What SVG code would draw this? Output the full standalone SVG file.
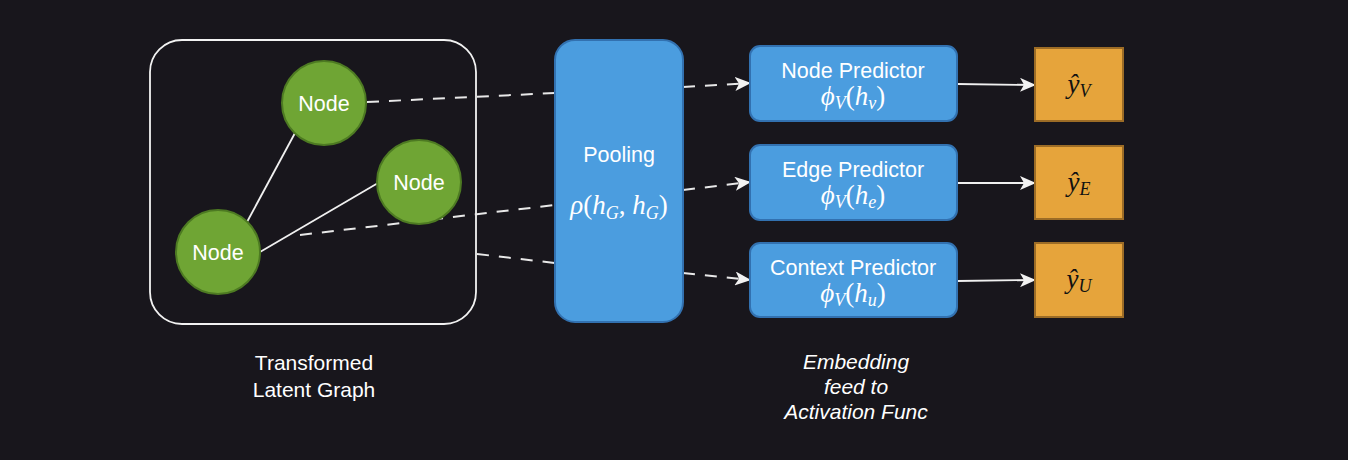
<svg xmlns="http://www.w3.org/2000/svg" width="1348" height="460" viewBox="0 0 1348 460">
<style>
.lbl{font-family:"Liberation Sans",Arial,sans-serif;font-size:21.5px;fill:#ffffff;text-anchor:middle}
.cap{font-family:"Liberation Sans",Arial,sans-serif;font-size:21px;fill:#ffffff;text-anchor:middle}
.math{font-family:"Liberation Serif","Times New Roman",serif;font-size:27px;fill:#ffffff;text-anchor:middle}
.omath{font-family:"Liberation Serif","Times New Roman",serif;font-size:27px;fill:#111111;text-anchor:middle;font-style:italic}
.node{fill:#6fa534;stroke:#4d7a22;stroke-width:2}
.blue{fill:#4b9ddf;stroke:#3271b0;stroke-width:2}
.out{fill:#e6a43b;stroke:#9c6c26;stroke-width:2}
.dash{fill:none;stroke:#e8e8e8;stroke-width:2;stroke-dasharray:12 10}
.solid{fill:none;stroke:#f0f0f0;stroke-width:1.8}
</style>
<defs>
<marker id="arr" viewBox="0 0 16 14" refX="15" refY="7" markerWidth="16" markerHeight="14" markerUnits="userSpaceOnUse" orient="auto">
<path d="M0,0 L16,7 L0,14 L4,7 z" fill="#f2f2f2"/>
</marker>
</defs>
<rect width="1348" height="460" fill="#18161c"/>
<g id="graph-frame">
<rect x="150" y="40" width="326" height="284" rx="32" fill="none" stroke="#f2f2f2" stroke-width="1.8"/>
</g>
<g id="connectors">
<line class="solid" x1="247" y1="222" x2="295" y2="133"/>
<line class="solid" x1="260" y1="252" x2="378" y2="183"/>
<line class="dash" x1="367" y1="102" x2="555" y2="93"/>
<line class="dash" x1="300" y1="235" x2="555" y2="205"/>
<line class="dash" x1="477" y1="254" x2="555" y2="263"/>
<line class="dash" x1="683" y1="87" x2="750" y2="83" marker-end="url(#arr)"/>
<line class="dash" x1="683" y1="190" x2="750" y2="182" marker-end="url(#arr)"/>
<line class="dash" x1="683" y1="273" x2="750" y2="280" marker-end="url(#arr)"/>
<line class="solid" x1="957" y1="84" x2="1035" y2="85" marker-end="url(#arr)"/>
<line class="solid" x1="957" y1="183" x2="1035" y2="183" marker-end="url(#arr)"/>
<line class="solid" x1="957" y1="281" x2="1035" y2="280" marker-end="url(#arr)"/>
</g>
<g id="node1">
<circle class="node" cx="324" cy="103" r="42"/>
<text class="lbl" x="324" y="111">Node</text>
</g>
<g id="node2">
<circle class="node" cx="419" cy="182" r="42"/>
<text class="lbl" x="419" y="190">Node</text>
</g>
<g id="node3">
<circle class="node" cx="218" cy="252" r="42"/>
<text class="lbl" x="218" y="260">Node</text>
</g>
<g id="pooling">
<rect class="blue" x="555" y="40" width="128" height="282" rx="20"/>
<text class="lbl" x="619" y="162">Pooling</text>
<text class="math" x="619" y="214"><tspan font-style="italic">ρ</tspan>(<tspan font-style="italic">h</tspan><tspan font-style="italic" font-size="18" dy="5">G</tspan><tspan dy="-5">, </tspan><tspan font-style="italic">h</tspan><tspan font-style="italic" font-size="18" dy="5">G</tspan><tspan dy="-5">)</tspan></text>
</g>
<g id="node-predictor">
<rect class="blue" x="750" y="46" width="207" height="75" rx="10"/>
<text class="lbl" x="853" y="78">Node Predictor</text>
<text class="math" x="853" y="105"><tspan font-style="italic">ϕ</tspan><tspan font-style="italic" font-size="18" dy="4">V</tspan><tspan dy="-4">(</tspan><tspan font-style="italic">h</tspan><tspan font-style="italic" font-size="18" dy="4">v</tspan><tspan dy="-4">)</tspan></text>
</g>
<g id="edge-predictor">
<rect class="blue" x="750" y="145" width="207" height="75" rx="10"/>
<text class="lbl" x="853" y="177">Edge Predictor</text>
<text class="math" x="853" y="204"><tspan font-style="italic">ϕ</tspan><tspan font-style="italic" font-size="18" dy="4">V</tspan><tspan dy="-4">(</tspan><tspan font-style="italic">h</tspan><tspan font-style="italic" font-size="18" dy="4">e</tspan><tspan dy="-4">)</tspan></text>
</g>
<g id="context-predictor">
<rect class="blue" x="750" y="243" width="207" height="74" rx="10"/>
<text class="lbl" x="853" y="275">Context Predictor</text>
<text class="math" x="853" y="302"><tspan font-style="italic">ϕ</tspan><tspan font-style="italic" font-size="18" dy="4">V</tspan><tspan dy="-4">(</tspan><tspan font-style="italic">h</tspan><tspan font-style="italic" font-size="18" dy="4">u</tspan><tspan dy="-4">)</tspan></text>
</g>
<g id="out-v">
<rect class="out" x="1035" y="48" width="88" height="73"/>
<text class="omath" x="1079" y="93">ŷ<tspan font-size="18" dy="4">V</tspan></text>
</g>
<g id="out-e">
<rect class="out" x="1035" y="146" width="88" height="73"/>
<text class="omath" x="1079" y="191">ŷ<tspan font-size="18" dy="4">E</tspan></text>
</g>
<g id="out-u">
<rect class="out" x="1035" y="243" width="88" height="74"/>
<text class="omath" x="1079" y="288">ŷ<tspan font-size="18" dy="4">U</tspan></text>
</g>
<g id="caption-graph">
<text class="cap" x="314" y="370">Transformed</text>
<text class="cap" x="314" y="397">Latent Graph</text>
</g>
<g id="caption-embedding">
<text class="cap" x="856" y="369" font-style="italic">Embedding</text>
<text class="cap" x="856" y="394" font-style="italic">feed to</text>
<text class="cap" x="856" y="419" font-style="italic">Activation Func</text>
</g>
</svg>
